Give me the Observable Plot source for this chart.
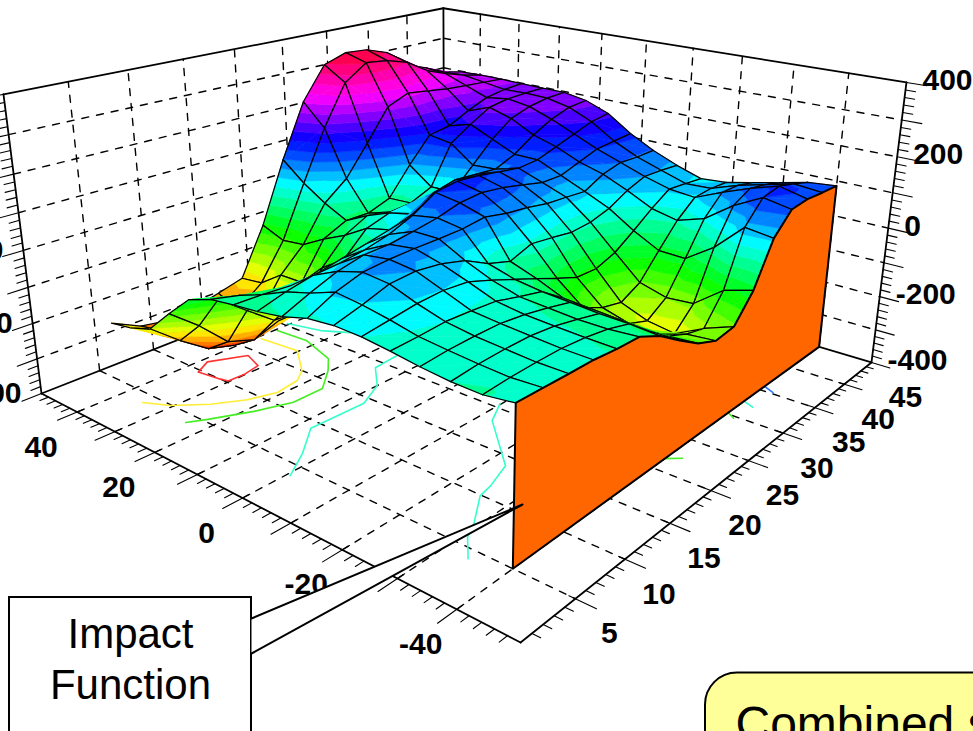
<!DOCTYPE html>
<html><head><meta charset="utf-8">
<script src="https://cdn.jsdelivr.net/npm/d3@7"></script>
<script src="https://cdn.jsdelivr.net/npm/@observablehq/plot@0.6"></script>
<style>html,body{margin:0;padding:0;background:#fff;overflow:hidden}</style>
</head><body><script>
// axis values
const xValues = [45,39.69,34.38,29.06,23.75,18.44,13.13,7.81,2.5,-2.81,-8.13,-13.44,-18.75,-24.06,-29.38,-34.69,-40];
const vValues = [5,7.5,10,12.5,15,17.5,20,22.5,25,27.5,30,32.5,35,37.5,40,42.5,45];
const xTicks = [40,30,20,10,0,-10,-20,-30,-40];
const xLabels = [40,20,0,-20,-40];
const vTicks = [5,10,15,20,25,30,35,40,45];
const zLabels = [-400,-200,0,200,400];
// surface heights, one list per x value
const z45 = [-236,-275,-288,-280,-263,-244,-105,73,229,324,346,341,318,266,241,213,198];
const z40 = [-225,-262,-305,-325,-290,-236,-132,19,165,283,328,320,300,260,235,215,200];
const z34 = [-203,-267,-322,-343,-290,-190,-124,-23,30,117,208,234,225,215,210,205,200];
const z29 = [-137,-200,-276,-301,-275,-190,-87,-56,-57,-34,47,120,130,160,185,195,198];
const z24 = [-76,-104,-163,-220,-225,-125,-56,-22,-35,-30,-3,110,150,185,195,197,197];
const z18 = [-52,-70,-105,-145,-150,-80,-16,5,-20,-15,0,60,120,165,185,195,197];
const z13 = [-43,-45,-50,-45,-30,-15,0,20,60,75,70,65,90,130,160,180,185];
const z8  = [-36,-15,0,5,15,32,60,100,110,105,95,85,90,110,130,150,158];
const z2  = [-25,5,32,48,50,60,72,90,96,88,75,60,60,80,100,105,110];
const zm3 = [-5,30,52,58,60,60,62,70,57,50,39,35,30,60,75,72,73];
const zm8 = [2,22,45,50,42,24,-10,-30,-7,-15,-24,-19,-2,29,50,48,43];
const zm13 = [0,10,20,24,18,-5,-30,-55,-82,-106,-108,-87,-48,-6,30,25,19];
const zm19 = [-8,-5,0,-3,-8,-25,-40,-85,-140,-169,-183,-153,-86,-22,23,28,25];
const zm24 = [-18,-12,-10,-10,-18,-30,-45,-90,-150,-190,-212,-174,-88,3,56,55,42];
const zm29 = [-25,-18,-15,-15,-22,-35,-50,-95,-150,-195,-224,-168,-35,59,86,75,60];
const zm35 = [-27,-22,-20,-20,-25,-35,-52,-100,-145,-170,-185,-108,41,100,110,95,78];
const zm40 = [-17,-18,-20,-21,-27,-29,-58,-100,-139,-163,-155,-85,31,86,92,88,86];
const zRows = [z45,z40,z34,z29,z24,z18,z13,z8,z2,zm3,zm8,zm13,zm19,zm24,zm29,zm35,zm40];
// floor contours as [x, v] pairs
const contourRed = [[36.8,9.7],[38.8,11.3],[35.4,14.1],[31,13.4],[30.2,11.8],[30.3,10.2],[32,10],[36.8,9.7]];
const contourYellow = [[39,16.9],[30.3,17.2],[23.8,15],[21.6,13.6],[20.8,11.3],[22.6,9.1],[25.9,6.9],[30.5,4.9],[34.8,3.9]];
const contourGreen = [[39.5,18.8],[32.1,19],[23.8,17.8],[20.4,16.3],[16.2,13.9],[16.2,11],[18.7,8.2],[22.2,5.3],[24,4]];
const contourCyanA = [[40.5,20.3],[33.5,21.1],[28.7,22.4]];
const contourCyanB = [[15.5,21.7],[15,19],[10,16.9],[7.2,14.2],[7.6,9.1],[2.8,6.3],[-0.6,3.8]];
const contourCyanC = [[-9.8,20.6],[-12.5,18.2],[-22.9,13.9],[-24.8,11.3],[-25.4,9.9],[-29.3,7.2],[-30.8,5.8],[-34.1,4.1]];
const contourBits = [
  {c:"#44ee22",p:[[-39.8,21.5],[-42,22.4]]},
  {c:"#44ee22",p:[[-40,30.2],[-41.6,29.7]]},
  {c:"#33ffcc",p:[[-39.8,32.6],[-42.1,32.1]]},
  {c:"#3377ff",p:[[-39.7,35.8],[-42.2,35.2]]}
];
// colour ramp: height to hue
const rampHeights = [-345,-17,20,86,130,234,346];
const rampHues = [0,165,185,222,240,295,345];

// camera: homogeneous projection of (a,b,c) in the unit box
function project(x,v,z){
  const a=(50-x)/100,b=v/45,c=(z+400)/800;
  const w=1-0.277*a+0.349*b-0.0836*c;
  return [(41+335*a+557.7*b-38.25*c)/w,(393+71.2*a-76.2*b-307*c)/w];
}
let uid=0;
function pathRows(points,extra){const id=uid++;return points.map(p=>{const q=project(p[0],p[1],p[2]);return {id,px:q[0],py:q[1],...extra};});}
const seg=(p,q,extra)=>pathRows([p,q],extra);

// box frame, grid and ticks
const xMin=-50,xMax=50,vMax=45,zMin=-400,zMax=400;
const frame=[
 [[xMax,0,zMin],[xMin,0,zMin]],[[xMin,0,zMin],[xMin,vMax,zMin]],[[xMin,vMax,zMin],[xMax,vMax,zMin]],[[xMax,vMax,zMin],[xMax,0,zMin]],
 [[xMax,0,zMin],[xMax,0,zMax]],[[xMax,0,zMax],[xMax,vMax,zMax]],[[xMax,vMax,zMax],[xMin,vMax,zMax]],[[xMin,vMax,zMax],[xMin,vMax,zMin]],[[xMax,vMax,zMax],[xMax,vMax,zMin]]
].flatMap(s=>seg(s[0],s[1],{}));
const grid=[];
for(const x of xTicks){grid.push(...seg([x,0,zMin],[x,vMax,zMin],{}),...seg([x,vMax,zMin],[x,vMax,zMax],{}));}
for(const v of vTicks.slice(0,-1)){grid.push(...seg([xMax,v,zMin],[xMin,v,zMin],{}),...seg([xMax,v,zMin],[xMax,v,zMax],{}));}
for(const z of d3.range(-300,301,100)){grid.push(...seg([xMax,0,z],[xMax,vMax,z],{}),...seg([xMax,vMax,z],[xMin,vMax,z],{}));}
const ticks=[];
for(const z of d3.range(-400,401,20)){
  const major=z%100===0;
  ticks.push(...seg([xMin,vMax,z],[xMin-(major?3.4:1.7),vMax,z],{}));
  ticks.push(...seg([xMax,0,z],[xMax,major?-1.6:-0.8,z],{}));
}
for(const x of d3.range(-48,49,2)){
  const major=x%10===0;
  ticks.push(...seg([x,major?0.6:0,zMin],[x,major?-1.6:-0.7,zMin],{}));
}
for(const v of d3.range(1,45,1)){
  const major=v%5===0;
  ticks.push(...seg([major?xMin+1:xMin,v,zMin],[major?xMin-3.2:xMin-1.3,v,zMin],{}));
}

// surface, painted back to front and split into colour bands
const bandStep=25;
const bands=d3.range(-375,375,bandStep);
const hue=d3.scaleLinear(rampHeights,rampHues).clamp(true);
const bandColor=lo=>d3.hsl(hue(lo+bandStep/2),1,0.5).formatHex();
function clip(poly,level,keepAbove){
  const out=[];
  for(let k=0;k<poly.length;k++){
    const P=poly[k],Q=poly[(k+1)%poly.length];
    const pin=keepAbove?P[2]>=level:P[2]<=level,qin=keepAbove?Q[2]>=level:Q[2]<=level;
    if(pin)out.push(P);
    if(pin!==qin){const t=(level-P[2])/(Q[2]-P[2]);out.push([P[0]+t*(Q[0]-P[0]),P[1]+t*(Q[1]-P[1]),level]);}
  }
  return out;
}
const surface=[];
const N=xValues.length,M=vValues.length;
const pt=(i,j)=>[xValues[i],vValues[j],zRows[i][j]];
for(let i=0;i<N-1;i++){
  for(let j=M-2;j>=0;j--){
    const A=pt(i,j),B=pt(i,j+1),C=pt(i+1,j+1),D=pt(i+1,j);
    for(const tri of [[A,B,C],[A,C,D]]){
      for(const lo of bands){
        let poly=clip(tri,lo,true);
        if(poly.length>=3)poly=clip(poly,lo+bandStep,false);
        if(poly.length>=3){const col=bandColor(lo);surface.push(...pathRows(poly.concat([poly[0]]),{fill:col,stroke:col,sw:0.6}));}
      }
    }
    surface.push(...pathRows([A,B,C,D,A],{fill:"none",stroke:"#000",sw:1.25}));
  }
}
// wall under the x = -40 edge
const wallTop=vValues.map((v,j)=>[-40,v,zm40[j]]);
const wall=pathRows([...wallTop,[-40,45,zMin],[-40,5,zMin],wallTop[0]],{});

const contourRows=[
 ...pathRows(contourRed.map(p=>[p[0],p[1],zMin]),{c:"#ff3333"}),
 ...pathRows(contourYellow.map(p=>[p[0],p[1],zMin]),{c:"#ffee33"}),
 ...pathRows(contourGreen.map(p=>[p[0],p[1],zMin]),{c:"#44ee22"}),
 ...pathRows(contourCyanA.map(p=>[p[0],p[1],zMin]),{c:"#33ffcc"}),
 ...pathRows(contourCyanB.map(p=>[p[0],p[1],zMin]),{c:"#33ffcc"}),
 ...pathRows(contourCyanC.map(p=>[p[0],p[1],zMin]),{c:"#33ffcc"}),
 ...contourBits.flatMap(b=>pathRows(b.p.map(p=>[p[0],p[1],zMin]),{c:b.c}))
];

const at=(x,v,z,text)=>{const q=project(x,v,z);return {px:q[0],py:q[1],text:String(text)};};
const xLabelRows=xLabels.map(x=>at(x,0,zMin,x));
const vLabelRows=vTicks.map(v=>at(xMin,v,zMin,v));
const zLeftRows=zLabels.map(z=>at(xMax,0,z,z));
const zRightRows=zLabels.map(z=>at(xMin,vMax,z,z));

// annotations
const impactBox=[{x1:9,x2:251,y1:597,y2:790}];
const impactWedge=[{px:251,py:618},{px:522,py:504},{px:251,py:653}];
const impactText=[{px:130,py:634,text:"Impact"},{px:130,py:685,text:"Function"}];
const noteBox=[{x1:705,x2:1040,y1:672.5,y2:800}];
const noteText=[{px:735,py:724.5,text:"Combined s"}];
const numberFont={fontFamily:"Liberation Sans, Arial, sans-serif",fontWeight:700,fontSize:30,fill:"#000",lineAnchor:"middle"};
const boxFont={fontFamily:"Liberation Sans, Arial, sans-serif",fontSize:42,fill:"#000",lineAnchor:"middle"};
const noteFont={fontFamily:"Liberation Sans, Arial, sans-serif",fontSize:48,fill:"#000",lineAnchor:"middle"};

const chart=Plot.plot({
  width:973,height:731,margin:0,
  x:{domain:[0,973],range:[0,973],axis:null},
  y:{domain:[0,731],range:[0,731],axis:null},
  color:{type:"identity"},
  style:{background:"#fff"},
  marks:[
    Plot.line(grid,{x:"px",y:"py",z:"id",stroke:"#000",strokeWidth:1.4,strokeDasharray:"7,8"}),
    Plot.line(ticks,{x:"px",y:"py",z:"id",stroke:"#000",strokeWidth:1.1}),
    Plot.line(frame,{x:"px",y:"py",z:"id",stroke:"#000",strokeWidth:1.8}),
    Plot.line(contourRows,{x:"px",y:"py",z:"id",stroke:"c",strokeWidth:1.6}),
    Plot.text(xLabelRows,{x:"px",y:"py",text:"text",dx:-36,dy:35,...numberFont}),
    Plot.text(vLabelRows,{x:"px",y:"py",text:"text",dx:34,dy:35,...numberFont}),
    Plot.text(zLeftRows,{x:"px",y:"py",text:"text",dx:-20,dy:0,textAnchor:"end",...numberFont}),
    Plot.text(zRightRows,{x:"px",y:"py",text:"text",dx:16,dy:-2,textAnchor:"start",...numberFont}),
    Plot.line(surface,{x:"px",y:"py",z:"id",fill:"fill",stroke:"stroke",strokeWidth:"sw",strokeLinejoin:"round"}),
    Plot.line(wall,{x:"px",y:"py",z:"id",fill:"#ff6600",stroke:"#000",strokeWidth:2}),
    Plot.rect(impactBox,{x1:"x1",x2:"x2",y1:"y1",y2:"y2",fill:"#fff",stroke:"#000",strokeWidth:2}),
    Plot.line(impactWedge,{x:"px",y:"py",fill:"#fff",stroke:"none"}),
    Plot.line(impactWedge,{x:"px",y:"py",stroke:"#000",strokeWidth:2}),
    Plot.text(impactText,{x:"px",y:"py",text:"text",textAnchor:"middle",...boxFont}),
    Plot.rect(noteBox,{x1:"x1",x2:"x2",y1:"y1",y2:"y2",rx:32,fill:"#ffff99",stroke:"#000",strokeWidth:2}),
    Plot.text(noteText,{x:"px",y:"py",text:"text",textAnchor:"start",...noteFont})
  ]
});
document.body.append(chart);
</script></body></html>
